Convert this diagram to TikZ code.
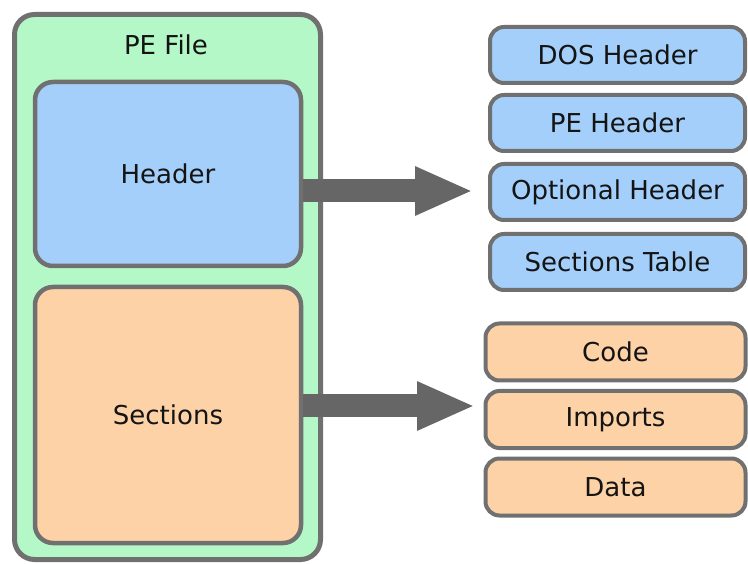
\documentclass[tikz,border=0pt]{standalone}
\usepackage{fontspec}
\setmainfont{DejaVu Sans}
\usetikzlibrary{arrows.meta}
\definecolor{pegreen}{HTML}{B4F8C8}
\definecolor{peblue}{HTML}{A3CFFA}
\definecolor{peorange}{HTML}{FDD2A7}
\definecolor{peborder}{HTML}{707070}
\definecolor{pearrow}{HTML}{666666}
\definecolor{petext}{HTML}{141414}
\begin{document}
\begin{tikzpicture}[x=1pt,y=-1pt,
  box/.style={draw=peborder, rounded corners=16pt, inner sep=0pt, text=petext,
    font=\fontsize{26}{30}\selectfont},
  outerbox/.style={box, fill=pegreen, line width=5pt, rounded corners=20pt},
  bigbox/.style={box, line width=4.5pt, rounded corners=18pt, minimum width=266pt},
  hbox/.style={box, fill=peblue, line width=4pt, rounded corners=14pt, minimum width=255pt, minimum height=56pt},
  sbox/.style={box, fill=peorange, line width=4pt, rounded corners=14pt, minimum width=260pt, minimum height=57pt},
  bigarrow/.style={draw=pearrow, line width=23pt, -{Triangle[length=58pt,width=45pt]}}
]
\useasboundingbox (0,0) rectangle (748,564);
\node[outerbox, minimum width=306pt, minimum height=545pt] (pe) at (167.5,287) {};
\node[font=\fontsize{26}{30}\selectfont, text=petext] (petitle) at (166,45) {PE File};
\node[bigbox, fill=peblue, minimum height=184pt] (header) at (168,174) {Header};
\node[bigbox, fill=peorange, minimum height=256pt] (sections) at (168,415) {Sections};

\node[hbox] (dos) at (617.5,55) {DOS Header};
\node[hbox] (peh) at (617.5,123) {PE Header};
\node[hbox] (opt) at (617.5,192) {Optional Header};
\node[hbox] (sect) at (617.5,262) {Sections Table};

\node[sbox] (code) at (615.5,352) {Code};
\node[sbox] (imp) at (615.5,419.5) {Imports};
\node[sbox] (data) at (615.5,487) {Data};

\coordinate (ha) at (473,191);
\coordinate (sa) at (475,406);
\draw[bigarrow] (header.east |- ha) -- (ha);
\draw[bigarrow] (sections.east |- sa) -- (sa);
\end{tikzpicture}
\end{document}
